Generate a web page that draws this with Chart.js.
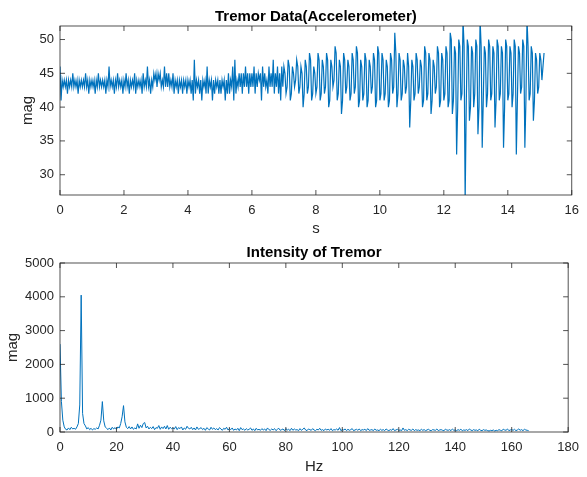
<!DOCTYPE html>
<html>
<head>
<meta charset="utf-8">
<title>Tremor</title>
<script src="https://cdn.jsdelivr.net/npm/chart.js@4.4.1/dist/chart.umd.min.js"></script>
<style>
  html, body { margin: 0; padding: 0; background: #fff; }
  #wrap { position: relative; width: 587px; height: 477px; }
  canvas { position: absolute; left: 0; }
  #tremor { top: 0; }
  #spectrum { top: 240px; }
</style>
</head>
<body>
<div id="wrap">
  <canvas id="tremor" width="587" height="240"></canvas>
  <canvas id="spectrum" width="587" height="237"></canvas>
</div>
<script>
// accelerometer magnitude, one value every 1/30 s
const TREMOR_STEP = 1 / 30;
const tremorMag = [
  // 0-7 s, quiet
  46, 41, 44, 43, 44, 43, 44, 42, 44, 43, 44, 43, 45, 43, 44, 43, 44, 42, 44, 43, 44, 43, 44, 43, 45, 43, 44, 42, 44, 43,
  44, 43, 44, 42, 44, 43, 45, 43, 44, 43, 44, 43, 44, 42, 44, 43, 46, 43, 44, 43, 44, 42, 44, 43, 45, 43, 44, 43, 44, 42,
  44, 43, 45, 43, 44, 42, 44, 43, 44, 43, 45, 42, 44, 43, 44, 43, 44, 42, 45, 43, 44, 43, 46, 43, 44, 42, 44, 43, 45, 44,
  45, 43, 45, 44, 45, 43, 44, 43, 46, 43, 45, 43, 45, 43, 44, 43, 45, 42, 44, 43, 44, 42, 44, 43, 44, 42, 44, 43, 44, 42,
  44, 43, 44, 42, 44, 41, 47, 42, 44, 43, 44, 42, 44, 41, 44, 43, 44, 42, 46, 42, 44, 43, 44, 41, 44, 42, 44, 43, 44, 42,
  44, 42, 44, 43, 44, 41, 44, 42, 45, 42, 44, 43, 46, 41, 47, 42, 44, 43, 45, 43, 45, 42, 45, 43, 46, 43, 45, 42, 45, 43,
  45, 43, 46, 42, 45, 43, 45, 44, 45, 41, 46, 43, 45, 43, 44, 42, 46, 43, 45, 43, 47, 42, 45, 43, 46, 42, 45, 41, 46, 43,
  // 7-15.1 s, tremor grows
  46, 45, 42, 43, 47, 46, 41, 42, 46, 45, 43, 44, 47, 46, 42, 43,
  46, 45, 40, 42, 47, 46, 42, 43, 48, 47, 41, 42, 46, 45, 42, 43,
  48, 47, 41, 42, 47, 46, 42, 43, 48, 47, 40, 41, 47, 46, 43, 44,
  49, 48, 41, 42, 47, 46, 39, 41, 48, 47, 42, 43, 47, 46, 41, 42,
  48, 47, 42, 43, 49, 48, 40, 41, 47, 46, 41, 42, 48, 47, 40, 41,
  47, 46, 42, 43, 48, 47, 40, 41, 49, 48, 41, 42, 48, 47, 41, 42,
  47, 46, 40, 41, 48, 47, 42, 43, 51, 48, 40, 42, 48, 47, 41, 42,
  47, 46, 42, 43, 48, 46, 37, 41, 47, 46, 41, 42, 48, 47, 42, 43,
  47, 46, 40, 41, 49, 48, 41, 42, 48, 47, 39, 41, 47, 46, 42, 43,
  49, 48, 40, 41, 48, 47, 41, 42, 49, 48, 40, 41, 51, 50, 39, 41,
  49, 48, 33, 40, 50, 49, 41, 42, 53, 49, 26, 40, 50, 49, 38, 40,
  49, 48, 40, 42, 50, 49, 36, 40, 53, 49, 34, 41, 49, 48, 40, 42,
  50, 49, 41, 42, 49, 48, 37, 41, 50, 49, 41, 42, 49, 48, 34, 40,
  50, 49, 41, 42, 49, 48, 40, 42, 50, 49, 33, 41, 49, 48, 42, 43,
  50, 49, 34, 41, 53, 49, 41, 42, 49, 48, 38, 41, 48, 47, 42, 43,
  48, 47, 44, 46, 48,
];
const tremorTicksX = [0, 2, 4, 6, 8, 10, 12, 14, 16];
const tremorTicksY = [30, 35, 40, 45, 50];

// spectrum magnitude, one value every 0.5 Hz
const SPECTRUM_STEP = 0.5;
const spectrumMag = [
  2600, 900, 350, 150, 80, 60, 120, 70, 140, 90,
  110, 80, 150, 250, 800, 4050, 550, 250, 180, 90,
  130, 70, 110, 60, 100, 80, 120, 90, 200, 350,
  900, 330, 150, 110, 70, 120, 60, 140, 90, 130,
  80, 150, 120, 250, 450, 780, 300, 140, 100, 160,
  90, 150, 80, 120, 90, 240, 110, 200, 130, 250,
  280, 120, 170, 90, 140, 100, 160, 70, 130, 110,
  190, 80, 150, 100, 170, 90, 190, 80, 140, 100,
  120,
  90, 160, 70, 130, 100, 150, 60, 120, 80, 170,
  110, 90, 140, 70, 120, 60, 150, 80, 100, 130,
  70, 110, 50, 130, 90, 60, 140, 80, 120, 70,
  100, 60, 130, 90, 50, 110, 80, 140, 60, 100,
  70, 120, 50, 90, 60, 110, 40, 130, 70, 90,
  50, 100, 60, 80, 120, 50, 90, 40, 110, 60,
  80, 50, 100, 60, 90, 40, 120, 70, 50, 90,
  60, 100, 40, 80, 110, 50, 70, 90, 40, 100,
  60, 80, 40, 110, 50, 90, 60, 70, 40, 100,
  50, 80, 120, 60, 40, 90, 70, 50, 100, 60,
  40, 80, 60, 110, 50, 70, 40, 90, 60, 80,
  50, 100, 40, 70, 60, 90, 50, 130, 40, 70,
  60, 90, 40, 80, 50, 70, 100, 40, 60, 80,
  50, 90, 40, 70, 60, 80, 40, 100, 50, 60,
  70, 40, 90, 50, 60, 40, 80, 50, 70, 40,
  90, 60, 40, 70, 50, 100, 40, 60, 80, 50,
  60, 40, 120, 50, 70, 40, 80, 60, 50, 90,
  40, 70, 50, 60, 40, 80, 50, 70, 40, 60,
  80, 50, 40, 70, 60, 50, 90, 40, 60, 70,
  50, 40, 80, 60, 50, 70, 40, 90, 50, 60,
  40, 70, 50, 80, 40, 60, 50, 70, 40, 90,
  60, 40, 70, 50, 60, 40, 80, 50, 40, 70,
  50, 60, 40, 30, 50, 40, 60, 30, 50, 40,
  70, 50, 40, 80, 60, 50, 90, 40, 60, 70,
  50, 80, 40, 60, 90, 50, 70, 40, 80, 60,
  50, 40,
];
const spectrumTicksX = [0, 20, 40, 60, 80, 100, 120, 140, 160, 180];
const spectrumTicksY = [0, 1000, 2000, 3000, 4000, 5000];

const FONT = "'Liberation Sans', Arial, Helvetica, sans-serif";
const INK = "#262626";
const LINE = "#0072bd";

Chart.defaults.font.family = FONT;
Chart.defaults.color = INK;

// box round the plot, inward ticks on all four sides, bold title
const matlabAxes = {
  id: "matlabAxes",
  afterDraw(chart, args, opts) {
    const { ctx, chartArea: a, scales } = chart;
    ctx.save();
    ctx.strokeStyle = INK;
    ctx.lineWidth = 0.8;
    ctx.strokeRect(a.left, a.top, a.right - a.left, a.bottom - a.top);
    ctx.beginPath();
    scales.x.ticks.forEach((t) => {
      const px = scales.x.getPixelForValue(t.value);
      ctx.moveTo(px, a.bottom);
      ctx.lineTo(px, a.bottom - 5);
      ctx.moveTo(px, a.top);
      ctx.lineTo(px, a.top + 5);
    });
    scales.y.ticks.forEach((t) => {
      const py = scales.y.getPixelForValue(t.value);
      ctx.moveTo(a.left, py);
      ctx.lineTo(a.left + 5, py);
      ctx.moveTo(a.right, py);
      ctx.lineTo(a.right - 5, py);
    });
    ctx.stroke();
    ctx.fillStyle = "#000";
    ctx.font = "bold 15px " + FONT;
    ctx.textAlign = "center";
    ctx.textBaseline = "alphabetic";
    ctx.fillText(opts.text, (a.left + a.right) / 2, a.top - opts.gap);
    ctx.restore();
  },
};

const plainNumber = (value) => String(value);

const makeChart = (id, cfg) => {
  const points = cfg.values.map((v, i) => ({ x: i * cfg.step, y: v }));
  return new Chart(document.getElementById(id), {
    type: "line",
    data: {
      datasets: [
        {
          data: points,
          borderColor: LINE,
          borderWidth: cfg.lineWidth,
          pointRadius: 0,
          tension: 0,
          fill: false,
        },
      ],
    },
    plugins: [matlabAxes],
    options: {
      responsive: false,
      animation: false,
      events: [],
      layout: { padding: { top: cfg.padTop, right: 12, left: 0, bottom: 0 } },
      plugins: {
        legend: { display: false },
        tooltip: { enabled: false },
        matlabAxes: { text: cfg.title, gap: cfg.titleGap },
      },
      scales: {
        x: {
          type: "linear",
          min: cfg.ticksX[0],
          max: cfg.ticksX[cfg.ticksX.length - 1],
          afterBuildTicks: (s) => { s.ticks = cfg.ticksX.map((v) => ({ value: v })); },
          afterFit: (s) => { s.height = 45; },
          grid: { display: false, drawTicks: false },
          border: { display: false },
          ticks: { padding: 8, autoSkip: false, maxRotation: 0, font: { size: 13 }, color: INK, callback: plainNumber },
          title: {
            display: true,
            text: cfg.labelX,
            font: { size: 15 },
            color: INK,
            padding: { top: 0, bottom: cfg.labelXPad },
          },
        },
        y: {
          type: "linear",
          min: cfg.minY,
          max: cfg.maxY,
          afterBuildTicks: (s) => { s.ticks = cfg.ticksY.map((v) => ({ value: v })); },
          afterFit: (s) => { s.width = 60; },
          grid: { display: false, drawTicks: false },
          border: { display: false },
          ticks: { padding: 6, font: { size: 13 }, color: INK, callback: plainNumber },
          title: {
            display: true,
            text: "mag",
            font: { size: 15 },
            color: INK,
            padding: { top: cfg.labelYPad, bottom: 0 },
          },
        },
      },
    },
  });
};

window.addEventListener("DOMContentLoaded", () => {
  makeChart("tremor", {
    values: tremorMag,
    step: TREMOR_STEP,
    lineWidth: 1.2,
    ticksX: tremorTicksX,
    ticksY: tremorTicksY,
    minY: 27,
    maxY: 52,
    title: "Tremor Data(Accelerometer)",
    titleGap: 5,
    labelX: "s",
    labelXPad: 2,
    labelYPad: 19,
    padTop: 26,
  });
  makeChart("spectrum", {
    values: spectrumMag,
    step: SPECTRUM_STEP,
    lineWidth: 1,
    ticksX: spectrumTicksX,
    ticksY: spectrumTicksY,
    minY: 0,
    maxY: 5000,
    title: "Intensity of Tremor",
    titleGap: 6,
    labelX: "Hz",
    labelXPad: 1,
    labelYPad: 4,
    padTop: 23,
  });
});
</script>
</body>
</html>
